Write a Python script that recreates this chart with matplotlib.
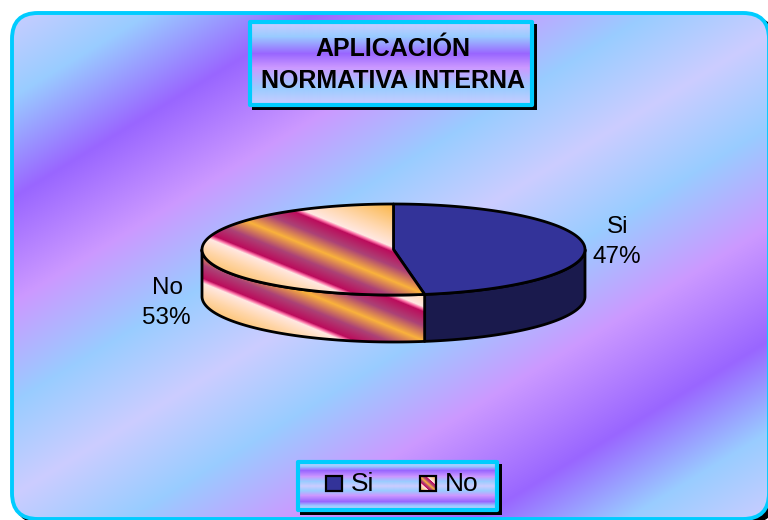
import numpy as np
import matplotlib
matplotlib.use('Agg')
import matplotlib.pyplot as plt
from matplotlib.patches import FancyBboxPatch, Polygon, Rectangle

plt.rcParams['font.family'] = ['Liberation Sans', 'DejaVu Sans']

categories = ['Si', 'No']
shares = [47.4, 52.6]
title_lines = ['APLICACIÓN', 'NORMATIVA INTERNA']

CYAN = '#00CCFF'
SI_TOP = '#333399'
SI_SIDE = '#1A1A4D'

LAV = (204, 204, 255)
BLUE = (153, 204, 255)
PURPLE = (153, 102, 255)
PINK = (204, 153, 255)

# band positions along the diagonal of the chart area
bg_pos = [16, 105, 205, 310, 410, 503, 596, 696, 810, 901, 990]
bg_col = [LAV, BLUE, PURPLE, PINK, BLUE, LAV, BLUE, PINK, PURPLE, BLUE, LAV]

title_pos = [0, 0.17, 0.38, 0.55, 0.8, 1]
title_col = [LAV, BLUE, PURPLE, PINK, BLUE, LAV]
legend_pos = [0, .08, .17, .3, .4, .5, .6, .7, .83, .92, 1]

ORANGE = (250, 178, 60)
PEACH = (255, 214, 170)
PALE = (255, 232, 226)
HOT = (250, 110, 165)
CRIMSON = (188, 12, 92)
PLUM = (172, 66, 118)
stripe_pos = [40, 70, 86, 88.5, 91, 105, 120, 135, 148, 150.5, 153, 166, 195]
stripe_col = [ORANGE, PEACH, PALE, HOT, CRIMSON, PLUM, ORANGE, PLUM, CRIMSON, HOT, PALE, PEACH, ORANGE]


def ramp(t, pos, col):
    col = np.array(col, dtype=float)
    out = np.stack([np.interp(t, pos, col[:, i]) for i in range(3)], axis=-1)
    return out / 255


def paint(ax, rgb, x0, x1, y0, y1, clip, zorder):
    im = ax.imshow(rgb, extent=(x0, x1, y1, y0), aspect='auto', zorder=zorder, interpolation='nearest')
    im.set_clip_path(clip)
    return im


def grid(x0, x1, y0, y1):
    return np.meshgrid(np.arange(x0, x1) + 0.5, np.arange(y0, y1) + 0.5)


def text_box(ax, x0, x1, y0, y1, shade_pos, shade_col):
    ax.add_patch(Rectangle((x0 + 2, y0 + 2), x1 - x0 + 3, y1 - y0 + 3, fc='black', ec='none', zorder=3))
    t = np.linspace(0, 1, y1 - y0).reshape(-1, 1)
    rgb = ramp(t, shade_pos, shade_col)
    ax.imshow(rgb, extent=(x0, x1, y1, y0), aspect='auto', zorder=4, interpolation='bilinear')
    ax.add_patch(Rectangle((x0, y0), x1 - x0, y1 - y0, fc='none', ec=CYAN, lw=3, zorder=5, joinstyle='round'))


def ellipse_arc(a0, a1, cx, cy, rx, ry):
    # angles clockwise from the top of the pie
    a = np.radians(np.linspace(a0, a1, 200))
    return cx + rx * np.sin(a), cy - ry * np.cos(a)


fig = plt.figure(figsize=(7.68, 5.2), dpi=100)
ax = fig.add_axes([0, 0, 1, 1])
ax.set_xlim(0, 768)
ax.set_ylim(520, 0)
ax.axis('off')

# chart area
ax.add_patch(FancyBboxPatch((15, 17), 760, 506, boxstyle='round,pad=0,rounding_size=26', fc='black', ec='black', zorder=0))
frame = FancyBboxPatch((12, 13), 757, 506, boxstyle='round,pad=0,rounding_size=26', fc='none', ec=CYAN, lw=2.8, zorder=2)
ax.add_patch(frame)
xx, yy = grid(0, 768, 0, 520)
clip_bg = FancyBboxPatch((12, 13), 757, 506, boxstyle='round,pad=0,rounding_size=26', transform=ax.transData)
paint(ax, ramp(0.61 * xx + yy, bg_pos, bg_col), 0, 768, 0, 520, clip_bg, 1)

# pie
cx, cy, rx, ry, depth = 393.5, 249.5, 191.5, 45.5, 47
split = 360 * shares[0] / sum(shares)
px, py = grid(190, 600, 195, 350)
top_stripes = ramp(py - 0.41 * px, stripe_pos, stripe_col)
side_stripes = ramp(py - depth - 0.41 * px, stripe_pos, stripe_col)


def side_points(a0, a1):
    x, y = ellipse_arc(a0, a1, cx, cy, rx, ry)
    return np.r_[np.c_[x, y], np.c_[x[::-1], y[::-1] + depth]]


def top_points(a0, a1):
    x, y = ellipse_arc(a0, a1, cx, cy, rx, ry)
    return np.r_[[[cx, cy]], np.c_[x, y]]


ax.add_patch(Polygon(side_points(90, split), closed=True, fc=SI_SIDE, ec='black', lw=2, zorder=6, joinstyle='round'))
no_side = Polygon(side_points(split, 270), closed=True, fc='none', ec='black', lw=2, zorder=7, joinstyle='round')
ax.add_patch(no_side)
paint(ax, side_stripes, 190, 600, 195, 350, no_side, 6)

ax.add_patch(Polygon(top_points(0, split), closed=True, fc=SI_TOP, ec='black', lw=2, zorder=8, joinstyle='round'))
no_top = Polygon(top_points(split, 360), closed=True, fc='none', ec='black', lw=2, zorder=9, joinstyle='round')
ax.add_patch(no_top)
paint(ax, top_stripes, 190, 600, 195, 350, no_top, 8)

# data labels
label_xy = [(618, 233), (168, 294)]
for name, share, (lx, ly) in zip(categories, shares, label_xy):
    ax.text(lx, ly, name, ha='center', va='baseline', fontsize=17.5, color='black', zorder=10)
    ax.text(lx - 1.5, ly + 30, f'{share:.0f}%', ha='center', va='baseline', fontsize=17.5, color='black', zorder=10)

# title
text_box(ax, 250, 532, 22, 105, title_pos, title_col)
for line, ty in zip(title_lines, [56, 88]):
    ax.text(393, ty, line, ha='center', va='baseline', fontsize=18, fontweight='bold', color='black', zorder=6)

# legend
text_box(ax, 298, 497, 462, 510, legend_pos, bg_col)
ax.add_patch(Rectangle((326, 476), 16, 15, fc=SI_TOP, ec='black', lw=1.6, zorder=6))
ax.text(351, 491, categories[0], ha='left', va='baseline', fontsize=19, zorder=6)
mx, my = grid(420, 436, 476, 491)
swatch = Rectangle((420, 476), 16, 15, fc='none', ec='black', lw=1.6, zorder=7)
ax.add_patch(swatch)
mark_s = 40 + ((my - 476) - 0.9 * (mx - 420) + 14.4) * 155 / 29
paint(ax, ramp(mark_s, stripe_pos, stripe_col), 420, 436, 476, 491, swatch, 6)
ax.text(445, 491, categories[1], ha='left', va='baseline', fontsize=19, zorder=6)

ax.set_xlim(0, 768)
ax.set_ylim(520, 0)
fig.savefig('out.png', dpi=100, facecolor='white')
